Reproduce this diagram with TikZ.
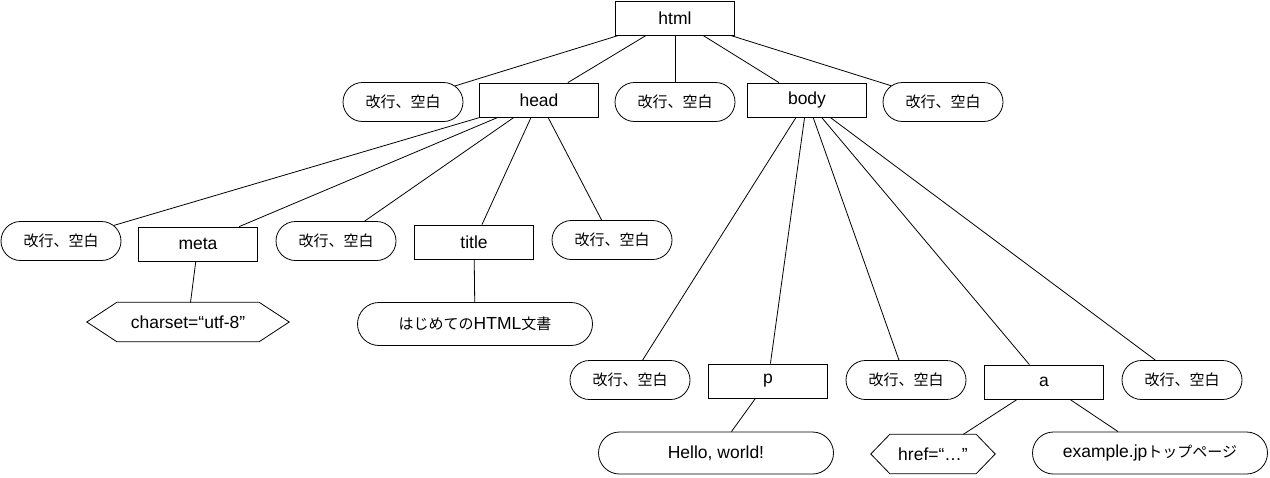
\documentclass[tikz,border=0pt]{standalone}
\usepackage{fontspec}
\setmainfont{Liberation Sans}
\newfontfamily\cjk{Noto Sans CJK JP}
\usetikzlibrary{shapes.misc}
\newcommand\jp[1]{{\cjk\fontsize{15}{18}\selectfont #1}}
\newcommand\hexa[2]{\draw[line width=0.8pt] (#1.west) -- ([xshift=#2]#1.north west) -- ([xshift=-#2]#1.north east) -- (#1.east) -- ([xshift=-#2]#1.south east) -- ([xshift=#2]#1.south west) -- cycle;}
\begin{document}
\begin{tikzpicture}[x=1pt,y=-1pt,
  every node/.style={inner sep=0pt,font=\fontsize{17.5}{21}\selectfont},
  tagbox/.style={draw,line width=0.8pt,rectangle,minimum width=119pt,minimum height=34pt},
  ws/.style={draw,line width=0.8pt,rounded rectangle,minimum width=120pt,minimum height=39pt},
  bigpill/.style={draw,line width=0.8pt,rounded rectangle,minimum width=235pt,minimum height=42pt},
  hexnode/.style={rectangle,minimum height=39pt},
  edge/.style={line width=0.8pt}]
\useasboundingbox (0,0) rectangle (1270,477);
% level 0
\node[tagbox] (html) at (675,18) {html};
% level 1
\node[ws] (a1) at (403,102) {\jp{改行、空白}};
\node[tagbox] (head) at (539,100) {head};
\node[ws] (a2) at (675,102) {\jp{改行、空白}};
\node[tagbox] (body) at (807,100) {body};
\node[ws] (a3) at (943,102) {\jp{改行、空白}};
% level 2 (head)
\node[ws] (b1) at (61,241) {\jp{改行、空白}};
\node[tagbox] (meta) at (198,244) {meta};
\node[ws] (b2) at (336,241) {\jp{改行、空白}};
\node[tagbox] (title) at (474,242) {title};
\node[ws] (b3) at (612,240) {\jp{改行、空白}};
\node[hexnode,minimum width=202pt] (charset) at (188,322) {charset=“utf-8”};
\hexa{charset}{30pt}
\node[bigpill,minimum height=43pt] (ttext) at (475,324) {\jp{はじめての}HTML\jp{文書}};
% level 2 (body)
\node[ws] (c1) at (630,380) {\jp{改行、空白}};
\node[tagbox] (p) at (768,381) {p};
\node[ws] (c2) at (906,380) {\jp{改行、空白}};
\node[tagbox] (a) at (1044,382) {a};
\node[ws] (c3) at (1182,380) {\jp{改行、空白}};
\node[bigpill] (hello) at (716,453) {Hello, world!};
\node[hexnode,minimum width=124pt] (href) at (933,454) {href=“…”};
\hexa{href}{19pt}
\node[bigpill] (example) at (1150,453) {example.jp\jp{トップページ}};
% connectors
\foreach \c in {a1,head,a2,body,a3} \draw[edge] (html) -- (\c);
\foreach \c in {b1,meta,b2,title,b3} \draw[edge] (head) -- (\c);
\foreach \c in {c1,p,c2,a,c3} \draw[edge] (body) -- (\c);
\draw[edge] (meta) -- (charset);
\draw[edge] (title) -- (ttext);
\draw[edge] (p) -- (hello);
\draw[edge] (a) -- (href);
\draw[edge] (a) -- (example);
\end{tikzpicture}
\end{document}
